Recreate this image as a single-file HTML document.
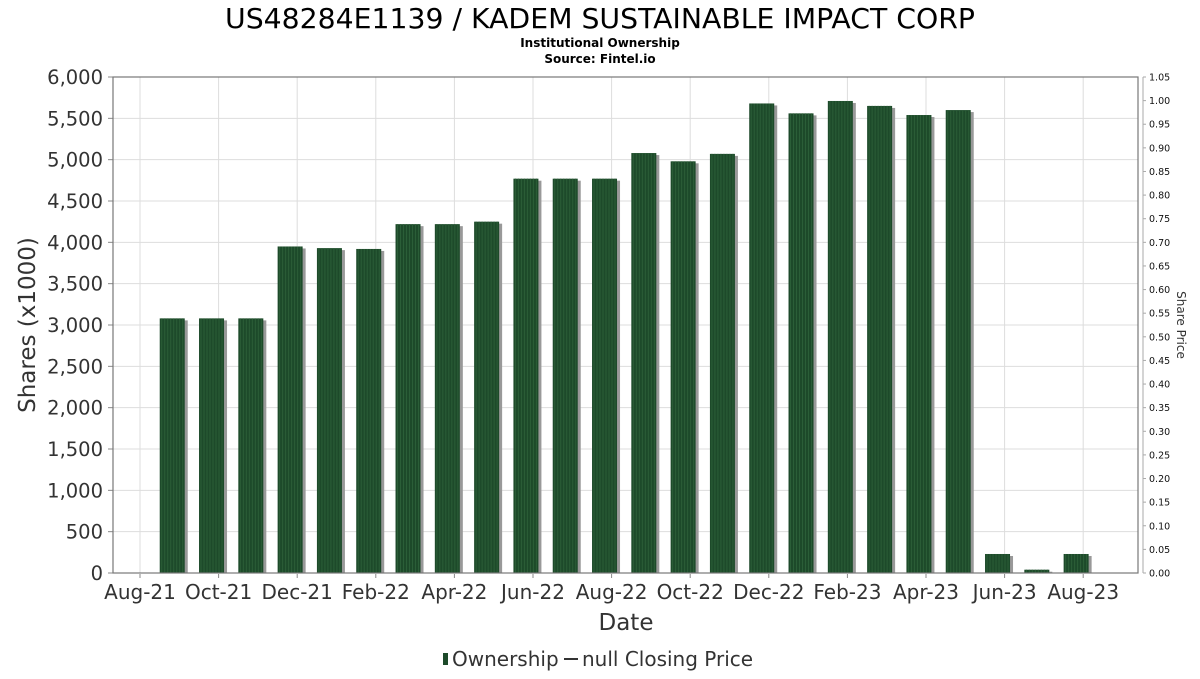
<!DOCTYPE html>
<html><head><meta charset="utf-8"><style>
body{margin:0;background:#fff;font-family:"DejaVu Sans","Liberation Sans",sans-serif;}
svg text{font-family:"DejaVu Sans","Liberation Sans",sans-serif;}
</style></head><body>
<svg id="c" width="1200" height="675">
<text x="600" y="28" text-anchor="middle" font-size="28" textLength="750" lengthAdjust="spacingAndGlyphs" fill="#000">US48284E1139 / KADEM SUSTAINABLE IMPACT CORP</text>
<text x="600" y="47" text-anchor="middle" font-size="12" font-weight="bold">Institutional Ownership</text>
<text x="600" y="63" text-anchor="middle" font-size="12" font-weight="bold">Source: Fintel.io</text>
<g id="grid"></g><g id="bars"></g><g id="axes"></g>
<text transform="translate(35,325) rotate(-90)" text-anchor="middle" font-size="23" fill="#333">Shares (x1000)</text>
<text transform="translate(1177,325) rotate(90)" text-anchor="middle" font-size="12" fill="#333">Share Price</text>
<text x="626" y="630" text-anchor="middle" font-size="23" fill="#333">Date</text>
<g>
<rect x="443" y="653" width="5" height="12" fill="#1d4a2a"></rect>
<text x="452" y="666" font-size="20" fill="#333">Ownership</text>
<line x1="564" y1="659" x2="578" y2="659" stroke="#333" stroke-width="2"></line>
<text x="582" y="666" font-size="20" fill="#333">null Closing Price</text>
</g>
</svg>
<script>
const categories=["Sep-21","Oct-21","Nov-21","Dec-21","Jan-22","Feb-22","Mar-22","Apr-22","May-22","Jun-22","Jul-22","Aug-22","Sep-22","Oct-22","Nov-22","Dec-22","Jan-23","Feb-23","Mar-23","Apr-23","May-23","Jun-23","Jul-23","Aug-23"];
const ownership=[3080,3080,3080,3950,3930,3920,4220,4220,4250,4770,4770,4770,5080,4980,5070,5680,5560,5710,5650,5540,5600,230,40,230];
const yTicks=[0,500,1000,1500,2000,2500,3000,3500,4000,4500,5000,5500,6000];
const rTicks=[0,0.05,0.1,0.15,0.2,0.25,0.3,0.35,0.4,0.45,0.5,0.55,0.6,0.65,0.7,0.75,0.8,0.85,0.9,0.95,1.0,1.05];
const xLabels=["Aug-21","Oct-21","Dec-21","Feb-22","Apr-22","Jun-22","Aug-22","Oct-22","Dec-22","Feb-23","Apr-23","Jun-23","Aug-23"];
const L=113,R=1138,T=77,B=573,M=39.3,X0=140;
const y=v=>B-(v/6000)*(B-T);
const yr=v=>B-(v/1.05)*(B-T);
const xm=m=>X0+M*m;
const NS="http://www.w3.org/2000/svg";
function mk(t,a,p){const e=document.createElementNS(NS,t);for(const k in a)e.setAttribute(k,a[k]);p.appendChild(e);return e;}
const g=document.getElementById('grid'),b=document.getElementById('bars'),ax=document.getElementById('axes');
yTicks.forEach(v=>{
 const l=mk('line',{x1:L,x2:R,y1:y(v),y2:y(v),stroke:'#ddd'},g);
 
 
 const t=mk('text',{x:103,y:y(v)+7,'text-anchor':'end','font-size':19.5,fill:'#333'},ax);t.textContent=v.toLocaleString('en-US');
 
 
 mk('line',{x1:L-5,x2:L,y1:y(v),y2:y(v),stroke:'#888'},ax);
});
xLabels.forEach((s,i)=>{
 const x=xm(i*2);
 const l=mk('line',{x1:x,x2:x,y1:T,y2:B,stroke:'#ddd'},g);
 
 
 mk('line',{x1:x,x2:x,y1:B+1,y2:B+5,stroke:'#888'},ax);
 const t=mk('text',{x:x,y:599,'text-anchor':'middle','font-size':20,fill:'#333'},ax);t.textContent=s;
 
 
});
rTicks.forEach(v=>{
 mk('line',{x1:1143,x2:1146,y1:yr(v),y2:yr(v),stroke:'#aaa'},ax);
 const t=mk('text',{x:1149,y:yr(v)+3.5,'font-size':9.5,fill:'#111'},ax);t.textContent=v.toFixed(2);
 
 
});
mk('line',{x1:1143,x2:1143,y1:T,y2:B,stroke:'#aaa'},ax);
mk('rect',{x:L,y:T,width:R-L,height:B-T,fill:'none',stroke:'#777','stroke-width':1.2},ax);
ownership.forEach((v,i)=>{
 const cx=xm(i+0.82),w=25,x=cx-w/2;
 const s=mk('rect',{x:x+3,y:y(v)+2,width:w,height:B-y(v)-2,fill:'#999'},b);
 
 
 const r=mk('rect',{x:x,y:y(v),width:w,height:B-y(v),fill:'#1d4a2a'},b);
 
 
 for(let k=2;k<w;k+=3){mk('line',{x1:x+k,x2:x+k,y1:y(v),y2:B,stroke:'#2c5e38','stroke-width':1},b);}
});
</script>
</body></html>
